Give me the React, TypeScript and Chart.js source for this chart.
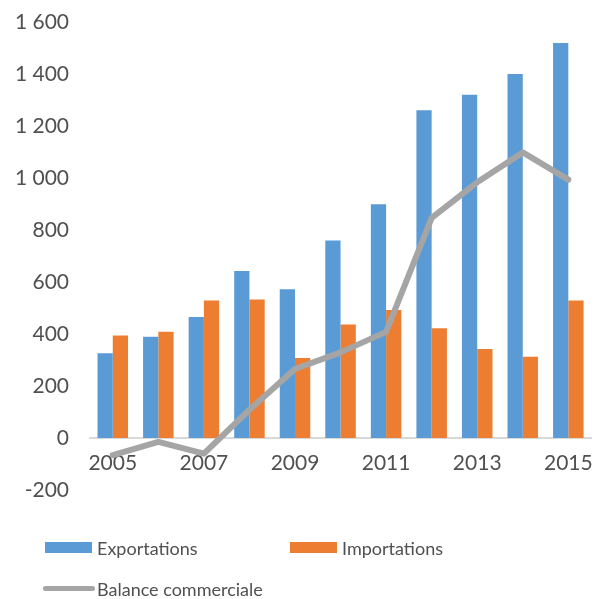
import React, { useEffect, useRef } from "react";
import { Chart, registerables } from "chart.js";

Chart.register(...registerables);

const categories = ["2005", "2006", "2007", "2008", "2009", "2010", "2011", "2012", "2013", "2014", "2015"];
const exportations = [327, 390, 466, 643, 573, 761, 900, 1262, 1322, 1402, 1521];
const importations = [395, 409, 530, 534, 308, 437, 493, 423, 343, 313, 530];
const balance = [-66, -15, -60, 109, 266, 330, 409, 848, 985, 1100, 995];
const seriesNames = ["Exportations", "Importations", "Balance commerciale"];

const BLUE = "#5B9BD5";
const ORANGE = "#ED7D31";
const GRAY = "#A5A5A5";
const TEXT = "#505050";
const FONT = "Lato, 'Open Sans', sans-serif";

export default function App() {
  const ref = useRef<HTMLCanvasElement>(null);

  useEffect(() => {
    if (!ref.current) return;
    const chart = new Chart(ref.current, {
      type: "bar",
      data: {
        labels: categories,
        datasets: [
          {
            type: "line",
            label: seriesNames[2],
            data: balance,
            borderColor: GRAY,
            backgroundColor: GRAY,
            borderWidth: 6,
            pointRadius: 0,
            tension: 0,
            borderJoinStyle: "round",
            borderCapStyle: "round",
          } as any,
          {
            label: seriesNames[0],
            data: exportations,
            backgroundColor: BLUE,
            categoryPercentage: 0.67,
            barPercentage: 1,
          },
          {
            label: seriesNames[1],
            data: importations,
            backgroundColor: ORANGE,
            categoryPercentage: 0.67,
            barPercentage: 1,
          },
        ],
      },
      options: {
        responsive: false,
        animation: false,
        layout: { padding: { left: 0, right: 7, top: 20, bottom: 109 } },
        plugins: { legend: { display: false }, tooltip: { enabled: false } },
        scales: {
          x: {
            position: { y: 0 } as any,
            grid: { display: false, drawTicks: false },
            border: { display: true, color: "#D9D9D9", width: 2 },
            ticks: {
              autoSkip: false,
              maxRotation: 0,
              padding: 13,
              color: TEXT,
              font: { family: FONT, size: 21 },
              callback: (_v: any, i: number) => (i % 2 === 0 ? categories[i] : ""),
            },
          },
          y: {
            min: -200,
            max: 1600,
            afterFit: (s: any) => {
              s.width = 90;
            },
            grid: { display: false, drawTicks: false },
            border: { display: false },
            ticks: {
              stepSize: 200,
              padding: 21,
              color: TEXT,
              font: { family: FONT, size: 21 },
              callback: (v: any) => {
                const n = Number(v);
                if (Math.abs(n) >= 1000) {
                  const s = String(Math.abs(n));
                  return (n < 0 ? "-" : "") + s.slice(0, s.length - 3) + " " + s.slice(-3);
                }
                return String(n);
              },
            },
          },
        },
      },
    });
    return () => chart.destroy();
  }, []);

  const legendText: React.CSSProperties = {
    position: "absolute",
    fontFamily: FONT,
    fontSize: 18,
    color: TEXT,
    lineHeight: "20px",
    whiteSpace: "nowrap",
  };

  return (
    <div style={{ position: "fixed", left: 0, top: 0, width: 606, height: 599, background: "#fff", overflow: "hidden" }}>
      <canvas ref={ref} width={606} height={610} style={{ position: "absolute", left: 0, top: -11 }} />
      <div style={{ position: "absolute", left: 45, top: 542, width: 47, height: 11, background: BLUE }} />
      <div style={{ ...legendText, left: 97, top: 538 }}>{seriesNames[0]}</div>
      <div style={{ position: "absolute", left: 290, top: 542, width: 47, height: 11, background: ORANGE }} />
      <div style={{ ...legendText, left: 342, top: 538 }}>{seriesNames[1]}</div>
      <div style={{ position: "absolute", left: 43, top: 586, width: 52, height: 5, borderRadius: 3, background: GRAY }} />
      <div style={{ ...legendText, left: 97, top: 579 }}>{seriesNames[2]}</div>
    </div>
  );
}
